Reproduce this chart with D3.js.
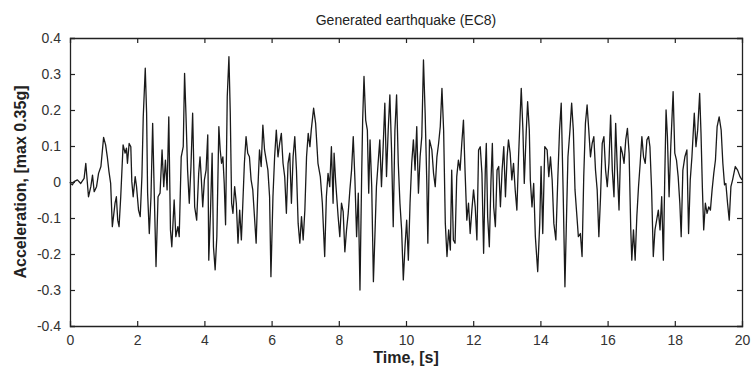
<!DOCTYPE html>
<html><head><meta charset="utf-8">
<script src="https://cdn.jsdelivr.net/npm/d3@7"></script>
<style>body{margin:0;background:#fff}svg{display:block}</style>
</head><body>
<script>
const title = "Generated earthquake (EC8)";
const xLabel = "Time, [s]";
const yLabel = "Acceleration, [max 0.35g]";
const xTicks = [0,2,4,6,8,10,12,14,16,18,20];
const yTicks = [-0.4,-0.3,-0.2,-0.1,0,0.1,0.2,0.3,0.4];
const yTickLabels = ["-0.4","-0.3","-0.2","-0.1","0","0.1","0.2","0.3","0.4"];
const time = [0,0.02,0.07,0.12,0.22,0.32,0.42,0.47,0.55,0.62,0.67,0.72,0.79,0.85,0.92,1.00,1.06,1.11,1.16,1.21,1.26,1.34,1.38,1.42,1.46,1.51,1.58,1.64,1.68,1.71,1.76,1.81,1.84,1.88,1.94,1.98,2.04,2.09,2.14,2.18,2.24,2.28,2.31,2.36,2.41,2.46,2.51,2.56,2.62,2.68,2.74,2.79,2.84,2.89,2.94,2.99,3.03,3.10,3.15,3.21,3.25,3.31,3.37,3.41,3.45,3.50,3.55,3.60,3.65,
3.71,3.77,3.83,3.87,3.91,3.95,4.00,4.05,4.10,4.13,4.18,4.23,4.27,4.32,4.37,4.43,4.47,4.51,4.55,4.59,4.63,4.68,4.73,4.77,4.81,4.85,4.90,4.95,5.00,5.05,5.10,5.14,5.19,5.24,5.29,5.34,5.39,5.44,5.49,5.54,5.59,5.64,5.69,5.74,5.79,5.84,5.89,5.94,5.98,6.04,6.09,6.14,6.19,6.24,6.29,6.34,6.39,6.44,6.49,6.54,6.59,6.64,6.69,6.74,6.79,6.84,6.89,6.94,6.99,7.04,7.09,7.14,7.18,7.25,7.31,7.38,7.45,7.51,7.58,7.63,
7.68,7.73,7.78,7.83,7.86,7.91,7.98,8.03,8.08,8.13,8.18,8.23,8.28,8.33,8.38,8.43,8.48,8.53,8.58,8.63,8.68,8.71,8.75,8.80,8.85,8.89,8.93,8.98,9.03,9.08,9.12,9.17,9.22,9.27,9.32,9.37,9.42,9.47,9.52,9.57,9.62,9.67,9.72,9.77,9.82,9.87,9.92,9.97,10.02,10.07,10.12,10.17,10.22,10.27,10.32,10.37,10.42,10.47,10.52,10.57,10.62,10.65,10.70,10.77,10.82,10.87,10.92,10.97,11.02,11.07,11.12,11.17,11.22,11.27,11.32,
11.36,11.41,11.46,11.51,11.56,11.61,11.66,11.71,11.76,11.81,11.86,11.91,11.96,12.01,12.06,12.11,12.16,12.21,12.26,12.31,12.36,12.39,12.43,12.48,12.53,12.57,12.61,12.66,12.71,12.76,12.81,12.86,12.91,12.96,13.01,13.05,13.10,13.15,13.20,13.25,13.30,13.35,13.40,13.43,13.48,13.52,13.58,13.62,13.67,13.70,13.75,13.80,13.85,13.92,13.98,14.02,14.07,14.13,14.20,14.25,14.30,14.35,14.40,14.46,14.52,14.57,14.62,14.68,14.73,14.78,14.82,14.88,14.93,14.98,15.03,15.08,15.13,15.19,15.24,15.29,15.34,15.39,15.44,15.49,15.54,15.59,15.64,15.69,15.74,
15.79,15.84,15.89,15.94,15.99,16.04,16.09,16.14,16.19,16.24,16.29,16.34,16.39,16.44,16.49,16.54,16.59,16.64,16.69,16.72,16.77,16.82,16.87,16.92,16.97,17.02,17.07,17.12,17.17,17.22,17.26,17.31,17.36,17.41,17.46,17.51,17.56,17.61,17.66,17.70,17.74,17.78,17.83,17.88,17.95,18.00,18.05,18.10,18.15,18.19,18.24,18.30,18.36,18.41,18.46,18.51,18.58,18.63,18.68,18.74,18.78,18.82,18.86,18.91,18.96,19.01,19.06,19.11,19.16,19.21,19.26,19.32,19.38,19.43,19.48,19.52,19.57,19.62,19.67,19.72,19.80,19.87,19.94,20.0];
const accel = [0,-0.004,-0.008,0.001,0.006,-0.004,0.010,0.052,-0.041,-0.013,0.019,-0.027,-0.013,0.024,0.043,0.124,0.103,0.070,0.029,-0.004,-0.124,-0.059,-0.041,-0.106,-0.124,-0.041,0.103,0.080,0.094,0.052,0.107,0.098,0.001,-0.041,0.015,-0.013,-0.078,-0.096,0.015,0.181,0.316,0.191,-0.031,-0.143,-0.041,0.163,-0.041,-0.235,-0.041,-0.031,0.089,-0.013,0.061,-0.022,0.181,-0.133,-0.180,-0.050,-0.152,-0.124,-0.152,0.070,0.098,0.302,0.191,0.033,-0.059,0.043,0.191,
-0.069,-0.106,0.024,0.070,0.006,-0.069,0.006,0.033,0.131,-0.217,-0.087,0.080,-0.180,-0.244,-0.152,0.154,0.089,0.052,0.070,-0.004,-0.119,0.237,0.348,0.191,-0.059,-0.087,-0.013,-0.059,-0.170,-0.078,-0.161,-0.069,0.052,0.126,0.080,0.070,0.006,-0.022,-0.096,-0.170,-0.022,0.089,0.043,0.158,0.089,0.061,0.033,-0.041,-0.263,-0.041,0.070,0.144,0.070,0.107,0.135,0.052,0.015,-0.087,0.052,0.080,-0.059,0.070,0.126,0.033,-0.115,-0.170,-0.096,-0.161,-0.078,0.070,0.135,0.098,0.144,0.205,0.163,0.052,0.015,-0.059,-0.207,-0.041,
0.024,-0.013,0.098,-0.059,0.080,-0.004,-0.096,-0.152,-0.059,-0.082,-0.194,-0.133,-0.087,-0.022,0.033,0.126,0.006,-0.152,-0.031,-0.300,0.015,0.172,0.293,0.172,0.144,-0.031,0.117,-0.013,-0.277,-0.133,-0.013,0.052,0.117,-0.013,0.098,0.219,0.015,0.144,0.242,0.089,-0.124,0.144,0.242,0.052,-0.059,-0.133,-0.272,-0.180,-0.106,-0.217,-0.059,0.052,0.117,0.033,0.154,-0.031,0.070,0.126,0.339,0.191,-0.004,-0.170,0.117,0.089,0.024,-0.013,0.070,0.107,0.154,0.260,0.144,-0.115,-0.207,-0.133,-0.189,
0.033,-0.161,-0.170,0.015,0.061,0.033,0.107,0.172,0.024,-0.106,-0.059,-0.143,-0.078,-0.022,-0.069,-0.161,0.089,0.098,0.024,-0.198,0.033,0.107,-0.096,-0.180,0.006,0.107,-0.069,-0.124,0.033,0.043,-0.069,0.033,0.098,-0.041,0.070,0.117,0.080,0.006,0.052,-0.022,-0.078,0.070,0.191,0.260,0.144,-0.004,0.144,0.223,0.144,0.006,-0.069,-0.004,-0.152,-0.249,-0.115,0.043,-0.143,0.098,0.089,0.015,0.070,0.006,-0.115,-0.161,0.015,0.144,0.219,-0.041,-0.291,-0.087,0.070,0.144,0.219,0.144,-0.022,-0.087,-0.152,-0.143,-0.207,0.015,0.163,0.214,0.144,0.070,0.107,0.126,0.033,-0.022,-0.152,
-0.041,0.107,0.126,0.033,-0.013,0.052,0.186,0.033,-0.041,0.163,0.033,-0.078,0.098,0.080,0.052,0.117,0.149,0.080,-0.133,-0.217,-0.133,-0.217,-0.096,-0.013,0.052,0.126,0.070,0.052,0.117,0.126,0.098,-0.022,-0.207,-0.133,-0.106,-0.078,-0.133,-0.041,-0.217,0.006,0.200,0.126,-0.041,0.098,0.251,0.080,0.061,0.015,-0.059,-0.152,0.033,0.070,0.089,-0.143,0.006,0.070,0.191,0.098,0.144,0.246,0.135,-0.013,-0.133,-0.059,-0.087,-0.069,-0.078,-0.022,0.024,0.061,0.154,0.181,0.144,0.052,-0.008,-0.004,-0.059,-0.106,-0.013,0.006,0.043,0.033,0.015,0.006];

const W = 751, H = 374;
const m = {left:70, right:9, top:38, bottom:48};
const svg = d3.select("body").append("svg").attr("width",W).attr("height",H)
  .style("font-family","'Liberation Sans', Arial, sans-serif");
const x = d3.scaleLinear().domain([0,20]).range([m.left, W-m.right]);
const y = d3.scaleLinear().domain([-0.4,0.4]).range([H-m.bottom, m.top]);

const data = time.map((t,i)=>({t, v:accel[i]}));
svg.append("path").datum(data)
  .attr("d", d3.line().x(d=>x(d.t)).y(d=>y(d.v)))
  .attr("fill","none").attr("stroke","#1a1a1a").attr("stroke-width",1.3).attr("stroke-linejoin","round");

const ts = 5;
const labelMap = new Map(yTicks.map((t,i)=>[t,yTickLabels[i]]));
const gB = svg.append("g").attr("transform",`translate(0,${H-m.bottom})`)
  .call(d3.axisBottom(x).tickValues(xTicks).tickSize(-ts).tickPadding(9).tickFormat(d3.format("d")));
const gT = svg.append("g").attr("transform",`translate(0,${m.top})`)
  .call(d3.axisTop(x).tickValues(xTicks).tickSize(-ts).tickFormat(""));
const gL = svg.append("g").attr("transform",`translate(${m.left},0)`)
  .call(d3.axisLeft(y).tickValues(yTicks).tickSize(-ts).tickPadding(9).tickFormat(d=>labelMap.get(d)));
const gR = svg.append("g").attr("transform",`translate(${W-m.right},0)`)
  .call(d3.axisRight(y).tickValues(yTicks).tickSize(-ts).tickFormat(""));
[gB,gT,gL,gR].forEach(g=>{
  g.select(".domain").attr("stroke","#222").attr("stroke-width",1.3);
  g.selectAll(".tick line").attr("stroke","#222").attr("stroke-width",1.2);
  g.selectAll(".tick text").attr("fill","#333").style("font-size","14px").style("font-family","'Liberation Sans', Arial, sans-serif");
});
// remove end ticks overlapping the frame corners
gB.selectAll(".tick").filter(d=>d===0||d===20).select("line").remove();
gT.selectAll(".tick").filter(d=>d===0||d===20).select("line").remove();
gL.selectAll(".tick").filter(d=>d===-0.4||d===0.4).select("line").remove();
gR.selectAll(".tick").filter(d=>d===-0.4||d===0.4).select("line").remove();

svg.append("text").attr("x",(m.left+W-m.right)/2).attr("y",25).attr("text-anchor","middle")
  .style("font-size","14px").attr("fill","#222").text(title);
svg.append("text").attr("x",(m.left+W-m.right)/2).attr("y",363).attr("text-anchor","middle")
  .style("font-size","16px").style("font-weight","bold").attr("fill","#222").text(xLabel);
svg.append("text").attr("transform",`translate(26,${(m.top+H-m.bottom)/2}) rotate(-90)`).attr("text-anchor","middle")
  .style("font-size","16px").style("font-weight","bold").attr("fill","#222").text(yLabel);
</script>
</body></html>
